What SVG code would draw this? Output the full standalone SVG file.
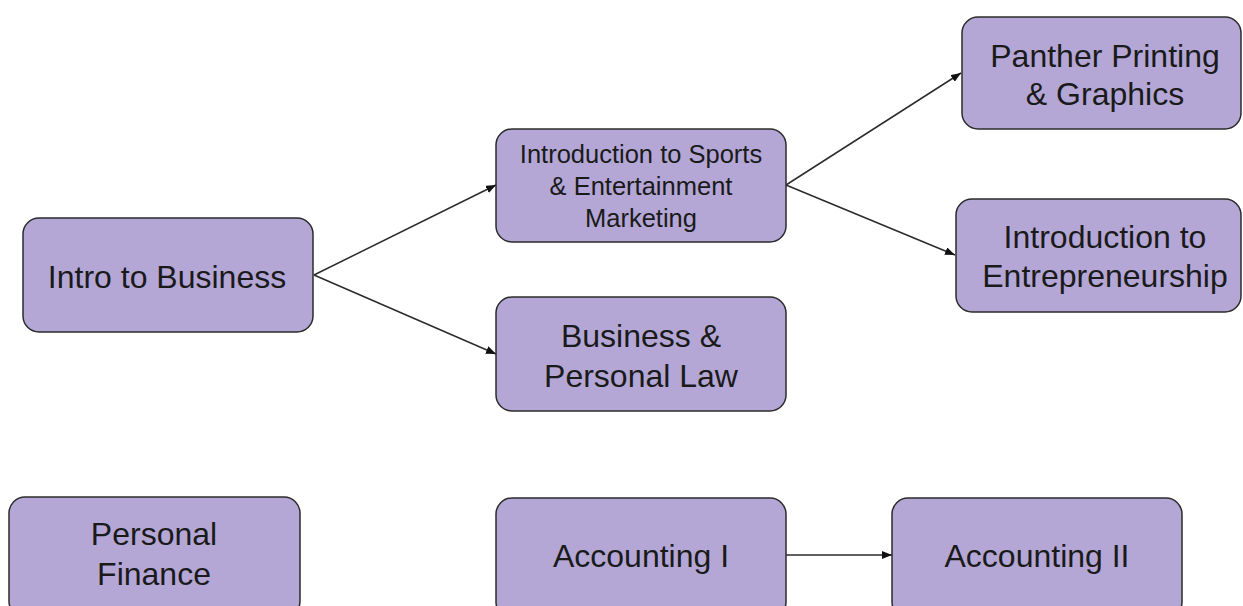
<svg xmlns="http://www.w3.org/2000/svg" width="1243" height="606" viewBox="0 0 1243 606">
<style>
.box{fill:#b4a7d6;stroke:#2b2b2b;stroke-width:1.5}
.t{font-family:"Liberation Sans",Arial,sans-serif;font-size:32px;fill:#1a1a1a;text-anchor:middle}
.s{font-size:25.5px}
.c{stroke:#2b2b2b;stroke-width:1.5;fill:none;marker-end:url(#ah)}
</style>
<defs>
<marker id="ah" viewBox="0 0 10 8" refX="10" refY="4" markerWidth="10" markerHeight="8" markerUnits="userSpaceOnUse" orient="auto">
<path d="M0,0 L10,4 L0,8 z" fill="#111"/>
</marker>
</defs>
<rect width="1243" height="606" fill="#fff"/>
<g id="connectors">
<line class="c" x1="314" y1="275" x2="496" y2="185"/>
<line class="c" x1="314" y1="275" x2="496" y2="354"/>
<line class="c" x1="786" y1="185" x2="961" y2="73"/>
<line class="c" x1="786" y1="185" x2="955" y2="255"/>
<line class="c" x1="786" y1="555" x2="892" y2="555"/>
</g>
<g id="intro-business">
<rect class="box" x="23" y="218" width="290" height="114" rx="16"/>
<text class="t" x="167" y="288">Intro to Business</text>
</g>
<g id="sports-marketing">
<rect class="box" x="496" y="129" width="290" height="113" rx="16"/>
<text class="t s" x="641" y="163">Introduction to Sports</text>
<text class="t s" x="641" y="195">&amp; Entertainment</text>
<text class="t s" x="641" y="227">Marketing</text>
</g>
<g id="business-law">
<rect class="box" x="496" y="297" width="290" height="114" rx="16"/>
<text class="t" x="641" y="347">Business &amp;</text>
<text class="t" x="641" y="387">Personal Law</text>
</g>
<g id="panther">
<rect class="box" x="962" y="17" width="279" height="112" rx="16"/>
<text class="t" x="1105" y="67">Panther Printing</text>
<text class="t" x="1105" y="105">&amp; Graphics</text>
</g>
<g id="entrepreneurship">
<rect class="box" x="956" y="199" width="285" height="113" rx="16"/>
<text class="t" x="1105" y="248">Introduction to</text>
<text class="t" x="1105" y="287">Entrepreneurship</text>
</g>
<g id="personal-finance">
<rect class="box" x="9" y="497" width="291" height="120" rx="16"/>
<text class="t" x="154" y="545">Personal</text>
<text class="t" x="154" y="585">Finance</text>
</g>
<g id="accounting-1">
<rect class="box" x="496" y="498" width="290" height="120" rx="16"/>
<text class="t" x="641" y="567">Accounting I</text>
</g>
<g id="accounting-2">
<rect class="box" x="892" y="498" width="290" height="120" rx="16"/>
<text class="t" x="1037" y="567">Accounting II</text>
</g>
</svg>
